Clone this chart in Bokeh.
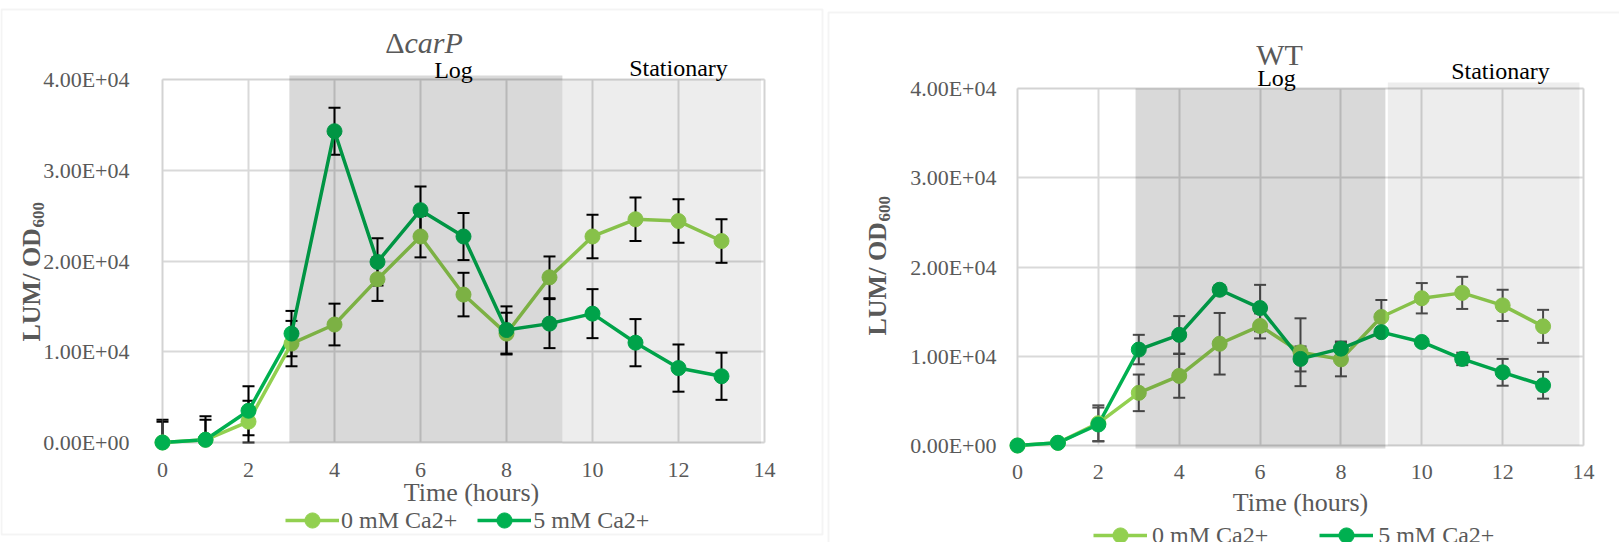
import math
from bokeh.plotting import figure
from bokeh.models import (Range1d, FixedTicker, Whisker, TeeHead, ColumnDataSource,
                          BoxAnnotation, Label, Legend, LegendItem, LinearAxis, Grid)
from bokeh.layouts import row
from bokeh.embed import file_html
from bokeh.resources import INLINE

# ---------------- data ----------------
hours = [0, 1, 2, 3, 4, 5, 6, 7, 8, 9, 10, 11, 12, 13]
x_ticks = [0, 2, 4, 6, 8, 10, 12, 14]
y_ticks = [0, 10000, 20000, 30000, 40000]
y_tick_labels = ["0.00E+00", "1.00E+04", "2.00E+04", "3.00E+04", "4.00E+04"]
series_names = ["0 mM Ca2+", "5 mM Ca2+"]

carp_title = ["\u0394", "carP"]          # upright delta + italic gene name
carp_0mM = [0, 300, 2300, 10900, 13000, 18000, 22700, 16300, 12000, 18200, 22700, 24600, 24400, 22200]
carp_0mM_err = [2300, 2200, 2300, 2500, 2300, 2400, 2300, 2400, 2300, 2300, 2400, 2400, 2400, 2400]
carp_5mM = [0, 300, 3500, 12000, 34300, 19900, 25600, 22700, 12400, 13100, 14200, 11000, 8200, 7300]
carp_5mM_err = [2500, 2600, 2700, 2500, 2600, 2600, 2600, 2600, 2600, 2700, 2700, 2600, 2600, 2600]
carp_log = [2.95, 9.30]
carp_stat = [9.30, 13.92]

wt_title = ["WT"]
wt_0mM = [0, 300, 2500, 5900, 7800, 11400, 13400, 10450, 9650, 14400, 16500, 17100, 15700, 13350]
wt_0mM_err = [0, 0, 2000, 2050, 2450, 3450, 1400, 3800, 1900, 1900, 1700, 1800, 1750, 1850]
wt_5mM = [0, 300, 2350, 10750, 12400, 17450, 15400, 9700, 10850, 12700, 11600, 9700, 8200, 6750]
wt_5mM_err = [0, 100, 1900, 1650, 2100, 500, 2600, 1400, 800, 400, 400, 700, 1500, 1500]
wt_log = [2.92, 9.10]
wt_stat = [9.16, 13.90]

phase_names = ["Log", "Stationary"]

# ---------------- style ----------------
FONT = "Liberation Serif"
GREY_TXT = "#595959"
C0 = "#92D050"
C1 = "#00B050"
X_MAX = 14.0
Y_MAX = 40000.0
H = 542


def make_chart(title_parts, s0, e0, s1, e1, log_span, stat_span, geo, err_color):
    W = geo["w"]
    fl, fr, ft, fb = geo["fl"], geo["fr"], geo["ft"], geo["fb"]
    kx = X_MAX / (fr - fl)          # data units per pixel
    ky = Y_MAX / (fb - ft)
    xr = Range1d(-fl * kx, (W - fl) * kx)
    yr = Range1d((fb - H) * ky, fb * ky)
    p = figure(width=W, height=H, x_range=xr, y_range=yr,
               x_axis_type=None, y_axis_type=None,
               output_backend="svg", toolbar_location=None)
    try:
        p.title = None
    except Exception:
        p.title.visible = False
    p.min_border = 0
    p.min_border_left = 0
    p.min_border_right = 0
    p.min_border_top = 0
    p.min_border_bottom = 0
    p.outline_line_color = None
    p.background_fill_color = "white"
    p.border_fill_color = "white"

    def dx(sx):
        return (sx - fl) * kx

    def dy(sy):
        return (fb - sy) * ky

    # grid, limited to the plotting area
    for dim, ticks, cb in ((0, x_ticks, (0, Y_MAX)), (1, y_ticks, (0, X_MAX))):
        try:
            g = Grid(dimension=dim, ticker=FixedTicker(ticks=ticks), cross_bounds=cb,
                     grid_line_color="#d9d9d9", grid_line_width=2)
            p.add_layout(g)
        except Exception:
            if dim == 0:
                p.segment(x0=ticks, x1=ticks, y0=[0] * len(ticks), y1=[Y_MAX] * len(ticks),
                          line_color="#d9d9d9", line_width=2, level="underlay")
            else:
                p.segment(x0=[0] * len(ticks), x1=[X_MAX] * len(ticks), y0=ticks, y1=ticks,
                          line_color="#d9d9d9", line_width=2, level="underlay")

    # axes drawn at fixed data locations (inside the canvas)
    yax = LinearAxis(fixed_location=0, ticker=FixedTicker(ticks=y_ticks))
    yax.major_label_overrides = {t: l for t, l in zip(y_ticks, y_tick_labels)}
    xax = LinearAxis(fixed_location=0, ticker=FixedTicker(ticks=x_ticks))
    for ax in (xax, yax):
        ax.axis_line_color = None
        ax.major_tick_line_color = None
        ax.minor_tick_line_color = None
        ax.major_tick_out = 0
        ax.major_tick_in = 0
        ax.major_label_text_font = FONT
        ax.major_label_text_font_size = "22px"
        ax.major_label_text_color = GREY_TXT
    yax.major_label_standoff = geo["ystand"]
    xax.major_label_standoff = geo["xstand"]
    p.add_layout(yax, "left")
    p.add_layout(xax, "below")

    # error bars (clipped at the bottom of the plotting area like the original)
    for vals, errs in ((s0, e0), (s1, e1)):
        full = [i for i in range(len(hours)) if vals[i] - errs[i] >= 0]
        clip = [i for i in range(len(hours)) if vals[i] - errs[i] < 0]
        for idx, has_low in ((full, True), (clip, False)):
            if not idx:
                continue
            src = ColumnDataSource(dict(x=[hours[i] for i in idx],
                                        upper=[vals[i] + errs[i] for i in idx],
                                        lower=[max(vals[i] - errs[i], 0) for i in idx]))
            w = Whisker(source=src, base="x", upper="upper", lower="lower", dimension="height",
                        line_color=err_color, line_width=2,
                        upper_head=TeeHead(size=12, line_color=err_color, line_width=2),
                        lower_head=TeeHead(size=12, line_color=err_color, line_width=2)
                        if has_low else None)
            p.add_layout(w)

    l0 = p.line(hours, s0, line_color=C0, line_width=3.5)
    l1 = p.line(hours, s1, line_color=C1, line_width=3.5)
    m0 = p.scatter(hours, s0, marker="circle", size=15, fill_color=C0, line_color=C0)
    m1 = p.scatter(hours, s1, marker="circle", size=15, fill_color=C1, line_color=C1)

    # plot-area border
    p.add_layout(BoxAnnotation(left=0, right=X_MAX, bottom=0, top=Y_MAX,
                               fill_alpha=0, line_color="#c8c8c8", line_width=1.5,
                               level="underlay"))

    # phase shading (semi-transparent overlay on top of the series)
    p.add_layout(BoxAnnotation(left=log_span[0], right=log_span[1],
                               bottom=dy(geo["log_b"]), top=dy(geo["log_t"]),
                               fill_color="black", fill_alpha=0.15, line_color=None))
    p.add_layout(BoxAnnotation(left=stat_span[0], right=stat_span[1],
                               bottom=dy(geo["st_b"]), top=dy(geo["st_t"]),
                               fill_color="black", fill_alpha=0.07, line_color=None))

    # panel border
    p.add_layout(BoxAnnotation(left=dx(geo["pb"][0]), right=dx(geo["pb"][1]),
                               top=dy(geo["pb"][2]), bottom=dy(geo["pb"][3]),
                               fill_alpha=0, line_color="#d9d9d9", line_width=2))

    # phase labels
    p.add_layout(Label(x=dx(geo["log_lbl"][0]), y=dy(geo["log_lbl"][1]), text=phase_names[0],
                       text_font=FONT, text_font_size="24px", text_color="black",
                       text_align="center", text_baseline="middle"))
    p.add_layout(Label(x=dx(geo["st_lbl"][0]), y=dy(geo["st_lbl"][1]), text=phase_names[1],
                       text_font=FONT, text_font_size="24px", text_color="black",
                       text_align="center", text_baseline="middle"))

    # title
    tx, ty = geo["title"]
    if len(title_parts) == 1:
        p.add_layout(Label(x=dx(tx), y=dy(ty), text=title_parts[0],
                           text_font=FONT, text_font_size="30px", text_color=GREY_TXT,
                           text_align="center", text_baseline="middle"))
    else:
        p.add_layout(Label(x=dx(tx), y=dy(ty), text=title_parts[0],
                           text_font=FONT, text_font_size="30px", text_color=GREY_TXT,
                           text_align="right", text_baseline="middle"))
        p.add_layout(Label(x=dx(tx), y=dy(ty), text=title_parts[1],
                           text_font=FONT, text_font_size="30px", text_color=GREY_TXT,
                           text_font_style="italic",
                           text_align="left", text_baseline="middle"))

    # x axis title
    p.add_layout(Label(x=dx(geo["xt"][0]), y=dy(geo["xt"][1]), text="Time (hours)",
                       text_font=FONT, text_font_size="26px", text_color=GREY_TXT,
                       text_align="center", text_baseline="middle"))

    # y axis title with subscript
    yx, ybot = geo["yt"]
    p.add_layout(Label(x=dx(yx), y=dy(ybot), text="LUM/ OD", angle=math.pi / 2,
                       text_font=FONT, text_font_size="26px", text_color=GREY_TXT,
                       text_font_style="bold", text_align="left", text_baseline="middle"))
    p.add_layout(Label(x=dx(yx + 7), y=dy(ybot - 114), text="600", angle=math.pi / 2,
                       text_font=FONT, text_font_size="17px", text_color=GREY_TXT,
                       text_font_style="bold", text_align="left", text_baseline="middle"))

    # legend
    legend = Legend(items=[LegendItem(label=series_names[0], renderers=[l0, m0]),
                           LegendItem(label=series_names[1], renderers=[l1, m1])],
                    orientation="horizontal", location=geo["leg_loc"],
                    glyph_width=54, glyph_height=38, label_standoff=geo["leg_std"],
                    spacing=geo["leg_sp"], padding=0, margin=0,
                    border_line_color=None, background_fill_alpha=0,
                    label_text_font=FONT, label_text_font_size="24px",
                    label_text_color=GREY_TXT)
    p.add_layout(legend)
    return p


geo_left = dict(w=825, fl=162, fr=764, ft=79, fb=442, xstand=20, ystand=33,
                log_t=75, log_b=442, st_t=79, st_b=443,
                pb=(1, 822, 9, 534),
                log_lbl=(453, 69), st_lbl=(678, 67), title=(404, 42),
                xt=(471, 492), yt=(31, 341),
                leg_loc=(285, 3), leg_std=2, leg_sp=20)
geo_right = dict(w=794, fl=192, fr=758, ft=88, fb=445, xstand=19, ystand=21,
                 log_t=88, log_b=448, st_t=82, st_b=445,
                 pb=(3, 900, 12, 700),
                 log_lbl=(451, 77), st_lbl=(675, 70), title=(454, 54),
                 xt=(475, 502), yt=(52, 335),
                 leg_loc=(268, -12), leg_std=5, leg_sp=51)

p1 = make_chart(carp_title, carp_0mM, carp_0mM_err, carp_5mM, carp_5mM_err,
                carp_log, carp_stat, geo_left, "black")
p2 = make_chart(wt_title, wt_0mM, wt_0mM_err, wt_5mM, wt_5mM_err,
                wt_log, wt_stat, geo_right, "#505050")

layout = row(p1, p2, spacing=0)
open("out.html", "w").write(file_html(layout, INLINE))
